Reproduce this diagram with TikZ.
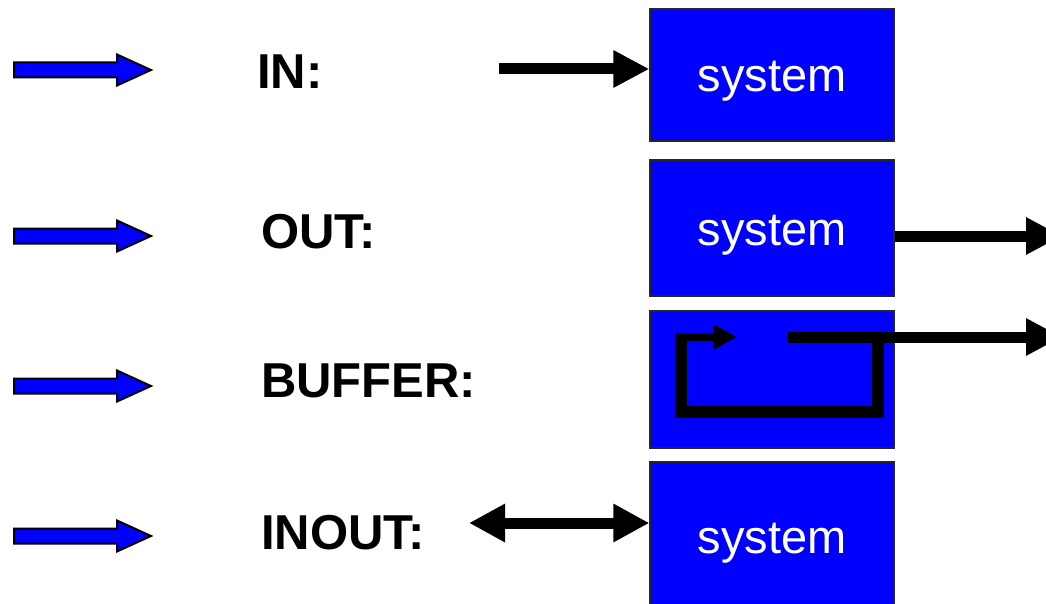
\documentclass[tikz,border=0pt]{standalone}
\usepackage{fontspec}
\setmainfont{Liberation Sans}
\usetikzlibrary{arrows.meta,positioning}

\begin{document}
\begin{tikzpicture}[x=1pt, y=-1pt,
  sysbox/.style={draw=black!85, line width=1.2pt, fill=blue, text=white,
    minimum width=244pt, text height=38pt, text depth=4pt,
    font=\fontsize{47}{56}\selectfont},
  kind/.style={anchor=west, inner sep=0pt, font=\bfseries\fontsize{49}{56}\selectfont},
  flow/.style={line width=11pt, -{Triangle[length=36pt,width=35pt]}},
  both/.style={line width=11pt, {Triangle[length=36pt,width=36pt]}-{Triangle[length=36pt,width=36pt]}},
  blockarrow/.style={fill=blue, draw=black, line width=2pt, line join=miter}]

  \useasboundingbox (0,0) rectangle (1046,604);

  % the four system blocks
  \node[sysbox, minimum height=132pt] (sysIn) at (772,75) {system};
  \node[sysbox, minimum height=136pt] (sysOut) at (772,228) {system};
  \node[sysbox, minimum height=137pt] (sysBuf) at (772,379.5) {};
  \node[sysbox, minimum height=148pt] (sysIo) at (772,536) {system};

  % port kinds
  \node[kind] (lIn) at (257,72) {IN:};
  \node[kind] (lOut) at (261,232) {OUT:};
  \node[kind] (lBuf) at (261,381) {BUFFER:};
  \node[kind] (lIo) at (261,533) {INOUT:};

  % blue bullets in front of each row
  \foreach \y in {70,236,386,536}
    \draw[blockarrow] (14,\y-7.5) -- (117,\y-7.5) -- (117,\y-15.5) -- (151,\y)
      -- (117,\y+15.5) -- (117,\y+7.5) -- (14,\y+7.5) -- cycle;

  % in
  \coordinate (inS) at (499,69);
  \draw[flow] (inS) -- (inS -| sysIn.west);

  % out
  \coordinate (outE) at (1062,236);
  \draw[flow] (outE -| sysOut.east) -- (outE);

  % buffer: output fed back inside the block
  \coordinate (bufS) at (788,337);
  \coordinate (bufE) at (1062,337);
  \coordinate (tap) at (878,337);
  \coordinate (back) at (737,337);
  \draw[flow] (bufS) -- (bufE);
  \draw[line width=11.5pt] (tap) -- (878,412) -- (681,412) -- (681,337);
  \draw[line width=8pt, -{Triangle[length=24pt,width=24pt]}] (675.5,337) -- (back);

  % inout
  \coordinate (ioS) at (469,523);
  \draw[both] (ioS) -- (ioS -| sysIo.west);
\end{tikzpicture}
\end{document}
